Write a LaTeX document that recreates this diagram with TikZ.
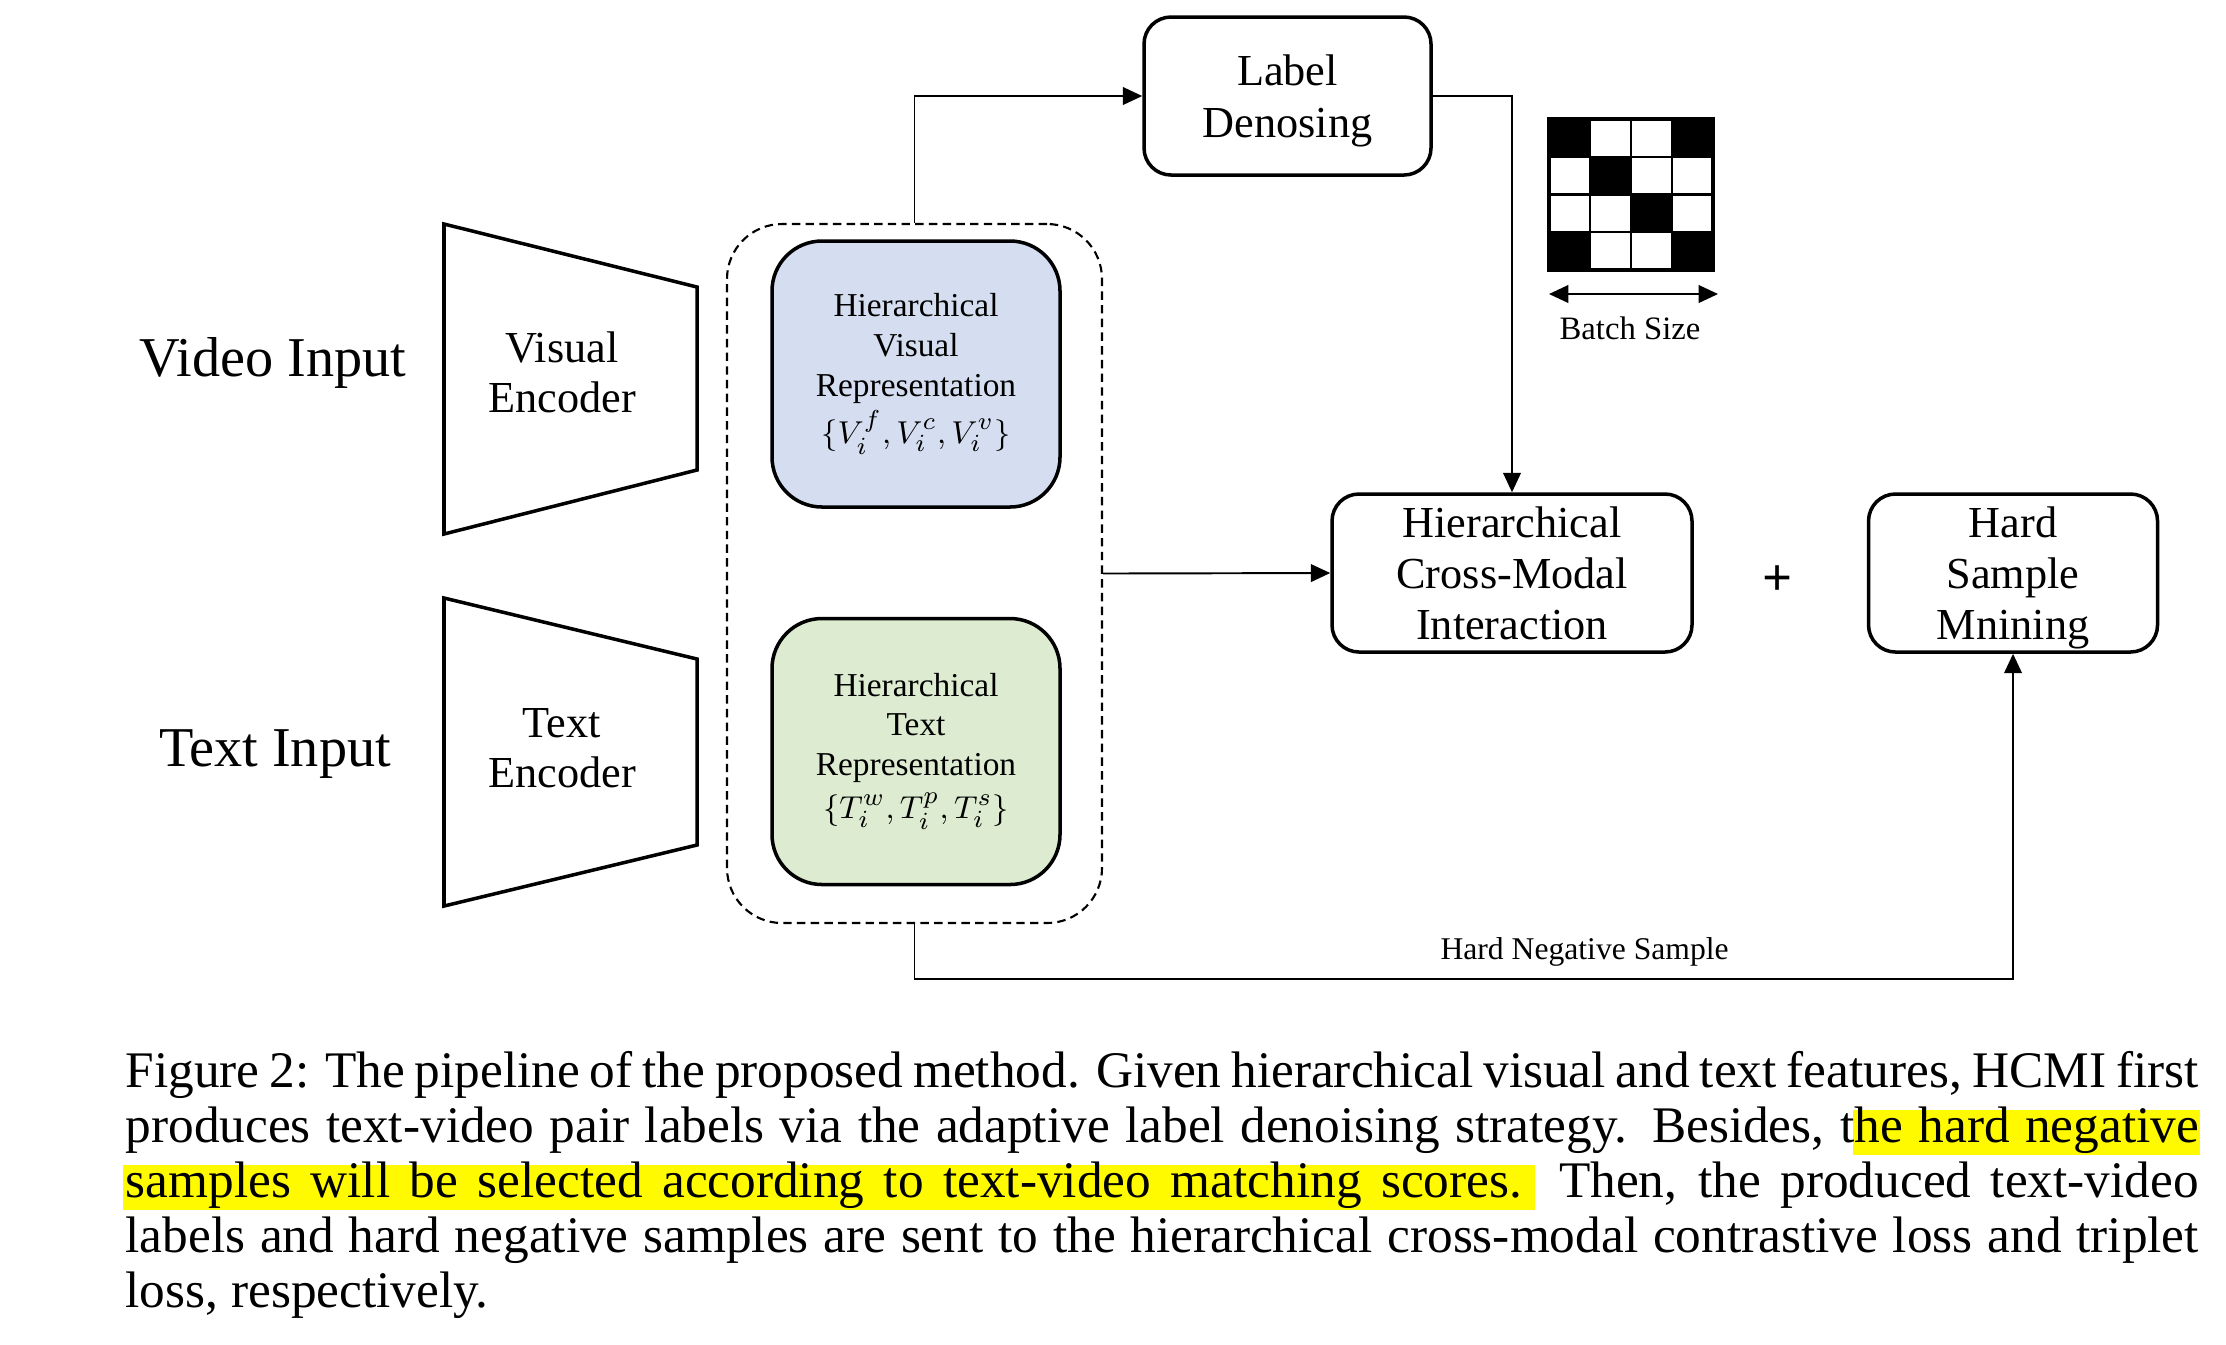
\documentclass[tikz,border=0pt]{standalone}
\usepackage{fontspec}
\setmainfont{Liberation Serif}
\usepackage{tikz}
\usetikzlibrary{positioning, arrows.meta}
\definecolor{visblue}{RGB}{213,221,240}
\definecolor{txtgreen}{RGB}{221,235,209}
\definecolor{hlyellow}{RGB}{255,250,0}
\tikzset{
>={Triangle[length=5.5pt,width=5pt]}, % filled triangle heads as in the figure
flow/.style={->, line width=0.55pt}, % connectors between the blocks
block/.style={draw, line width=1pt, rounded corners=0.27cm, align=center, inner ysep=1pt, text depth=0pt, minimum height=1.58cm, font=\fontsize{12.6}{14.6}\selectfont}, % plain white boxes
repbox/.style={draw, line width=1pt, rounded corners=0.5cm, align=center, minimum width=2.88cm, minimum height=2.66cm, font=\fontsize{9.5}{11.3}\selectfont}, % feature boxes
encoder/.style={line width=1pt}, % trapezoid outline
bigtext/.style={font=\fontsize{16}{19}\selectfont},
smalltext/.style={font=\fontsize{9.3}{11}\selectfont},
capline/.style={anchor=base west, inner sep=0pt, font=\fontsize{14.6}{16.2}\selectfont},
}

\begin{document}
\begin{tikzpicture}
        \useasboundingbox (0,0) rectangle (22.26,-13.44);

        % inputs and encoders
        \node[bigtext] (vin) at (2.73,-3.63) {Video Input};
        \node[bigtext] (tin) at (2.75,-7.54) {Text Input};
        \draw[encoder] (4.44,-2.24) -- (6.97,-2.87) -- (6.97,-4.70) -- (4.44,-5.34) -- cycle;
        \draw[encoder] (4.44,-5.98) -- (6.97,-6.59) -- (6.97,-8.45) -- (4.44,-9.06) -- cycle;
        \node[align=center, font=\fontsize{12.6}{14.3}\selectfont] (venc) at (5.62,-3.72) {Visual\\Encoder};
        \node[align=center, font=\fontsize{12.6}{14.3}\selectfont] (tenc) at (5.62,-7.48) {Text\\Encoder};

        % hierarchical features
        \node[draw, dashed, dash pattern=on 2.4pt off 1.5pt, line width=0.6pt, rounded corners=0.55cm, minimum width=3.75cm, minimum height=6.99cm] (feats) at (9.145,-5.735) {};
        \node[repbox, fill=visblue] (vrep) at (9.16,-3.74) {Hierarchical\\Visual\\Representation\\[1pt]$\{V_i^f, V_i^c, V_i^v\}$};
        \node[repbox, fill=txtgreen] (trep) at (9.16,-7.515) {Hierarchical\\Text\\Representation\\[1pt]$\{T_i^w, T_i^p, T_i^s\}$};

        % losses
        \node[block, minimum width=2.87cm] (ld) at (12.875,-0.96) {Label\\Denosing};
        \node[block, minimum width=3.60cm] (hcmi) at (15.12,-5.73) {Hierarchical\\Cross-Modal\\Interaction};
        \node[block, minimum width=2.89cm, right=1.73cm of hcmi] (hsm) {Hard\\Sample\\Mnining};
        \node[font=\fontsize{15}{17}\selectfont\bfseries] (plus) at (17.77,-5.81) {+};

        % label matrix
        \foreach \r/\c in {0/0,0/3,1/1,2/2,3/0,3/3}
            \fill (15.49+0.41*\c,-1.19-0.3775*\r) rectangle ++(0.41,-0.3775);
        \draw[line width=0.6pt, shift={(15.49,-2.70)}, xstep=0.41, ystep=0.3775] (0,0) grid (1.64,1.51);
        \draw[line width=0.9pt] (15.49,-1.19) rectangle (17.13,-2.70);
        \coordinate (bsl) at (15.49,-2.94);
        \coordinate (bsr) at (17.18,-2.94);
        \draw[<->, line width=0.6pt] (bsl) -- (bsr);
        \node[smalltext] (bs) at (16.30,-3.28) {Batch Size};

        \draw[flow] (feats.north) |- (ld.west);
        \draw[flow] (ld.east) -| (hcmi.north);
        \draw[flow] (feats.east) -- (hcmi.west);
        \draw[flow] (feats.south) -- ++(0,-0.55) -| node[pos=0.305, above, font=\fontsize{9}{11}\selectfont] {Hard Negative Sample} (hsm.south);

        % caption
        \fill[hlyellow] (18.53,-11.10) rectangle (22.00,-11.55);
        \fill[hlyellow] (1.23,-11.65) rectangle (15.35,-12.10);
        \node[capline] (cap1) at (1.25,-10.87) {\makebox[20.73cm][s]{Figure 2: The pipeline of the proposed method. Given hierarchical visual and text features, HCMI first}};
        \node[capline] (cap2) at (1.25,-11.42) {\makebox[20.73cm][s]{produces text-video pair labels via the adaptive label denoising strategy. Besides, the hard negative}};
        \node[capline] (cap3) at (1.25,-11.97) {\makebox[20.73cm][s]{samples will be selected according to text-video matching scores. Then, the produced text-video}};
        \node[capline] (cap4) at (1.25,-12.52) {\makebox[20.73cm][s]{labels and hard negative samples are sent to the hierarchical cross-modal contrastive loss and triplet}};
        \node[capline] (cap5) at (1.25,-13.07) {loss, respectively.};
\end{tikzpicture}
\end{document}
